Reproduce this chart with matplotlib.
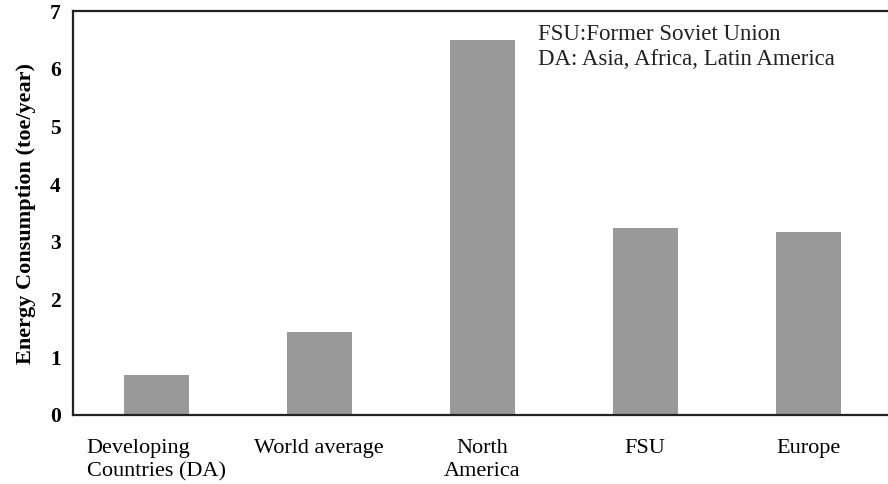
import matplotlib
matplotlib.use("Agg")
import matplotlib.pyplot as plt
from matplotlib.transforms import IdentityTransform

categories = ["Developing\nCountries (DA)", "World average", "North\nAmerica", "FSU", "Europe"]
values = [0.70, 1.44, 6.50, 3.24, 3.17]
yticks = [0, 1, 2, 3, 4, 5, 6, 7]
label_align = ["left", "center", "center", "center", "center"]
notes = ["FSU:Former Soviet Union", "DA: Asia, Africa, Latin America"]

plt.rcParams['font.family'] = ['Liberation Serif', 'DejaVu Serif']

W, H = 888, 484
fig = plt.figure(figsize=(W / 100, H / 100), dpi=100)
left, right, top, bottom = 73, 888, 11, 415
ax = fig.add_axes([left / W, 1 - bottom / H, (right - left) / W, (bottom - top) / H])

x = list(range(len(categories)))
ax.bar(x, values, width=0.4, color="#999999", edgecolor="none")

ax.set_xlim(-0.51, 4.49)
ax.set_ylim(0, 7)
ax.set_yticks(yticks)
ax.set_yticklabels([str(t) for t in yticks], fontweight="bold", fontsize=15.5)
ax.set_xticks(x)
ax.set_xticklabels(categories, fontsize=16, linespacing=1.3, va="top")
for lbl, al in zip(ax.get_xticklabels(), label_align):
    lbl.set_multialignment(al)
ax.tick_params(axis="both", length=0)
ax.tick_params(axis="y", pad=9)
ax.tick_params(axis="x", pad=17)

for s in ["left", "top", "bottom"]:
    ax.spines[s].set_linewidth(1.6)
    ax.spines[s].set_color("#222222")
ax.spines["right"].set_visible(False)

ax.set_ylabel("Energy Consumption (toe/year)", fontweight="bold", fontsize=16, labelpad=10)

for i, note in enumerate(notes):
    t = ax.text(538, H - (40 + 25 * i), note, fontsize=16.5, va="baseline",
                ha="left", color="#222222")
    t.set_transform(IdentityTransform())

fig.savefig("out.png", dpi=100)
